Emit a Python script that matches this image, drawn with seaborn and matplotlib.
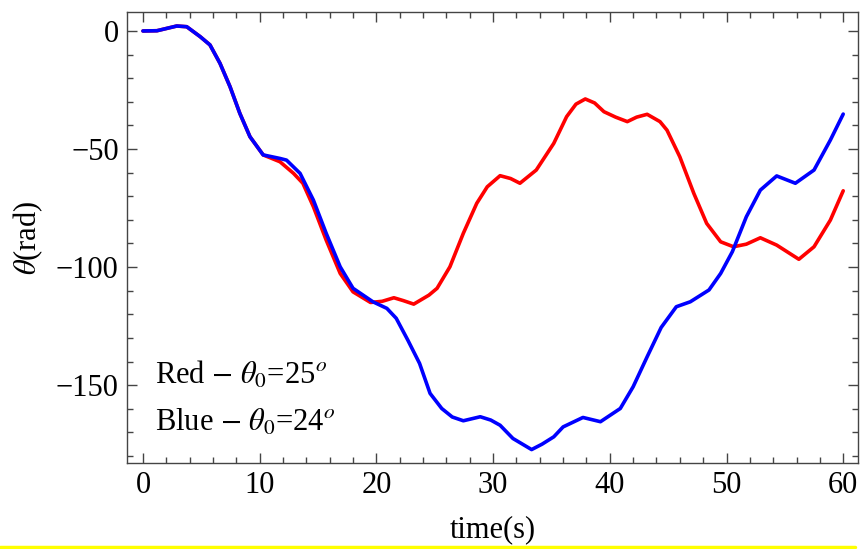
import numpy as np
import pandas as pd
import seaborn as sns
import matplotlib
matplotlib.use("Agg")
import matplotlib.pyplot as plt
from matplotlib.lines import Line2D
from matplotlib.ticker import MultipleLocator

red_t = [0, 1.2, 2.9, 3.75, 4.9, 5.74, 6.6, 7.46, 8.3, 9.17,
         10.3, 11.74, 12.9, 13.7, 14.6, 15.7, 16.9, 18, 19.5, 20.5,
         21.5, 22.3, 23.2, 24.5, 25.2, 26.3, 27.45, 28.6, 29.5, 30.6,
         31.5, 32.3, 33.7, 35.2, 36.3, 37.1, 37.9, 38.7, 39.5, 40.5,
         41.5, 42.3, 43.2, 44.3, 44.9, 46, 47.2, 48.3, 49.5, 50.6,
         51.7, 52.9, 54.3, 56.2, 57.5, 58.9, 60]
red_theta = [0, 0.1, 2.1, 1.8, -2.4, -5.9, -13.7, -23.6, -34.9, -44.8,
             -52.5, -55.4, -60.3, -64.5, -74.4, -88.6, -102.7, -110.5, -115, -114.5,
             -113, -114.2, -115.7, -111.9, -109, -99.9, -85.7, -73, -66, -61.3,
             -62.5, -64.5, -58.9, -47.6, -36.3, -31, -28.8, -30.5, -34.2, -36.5,
             -38.4, -36.5, -35.3, -38.4, -42, -53.3, -68.8, -81.5, -89.3, -91.4,
             -90.3, -87.6, -90.7, -96.7, -91.4, -80.1, -67.7]

blue_t = [0, 1.2, 2.9, 3.75, 4.9, 5.74, 6.6, 7.46, 8.3, 9.17,
          10.3, 11.74, 12.3, 13.46, 14.6, 15.7, 16.9, 18, 19.7, 20.9,
          21.7, 22.7, 23.7, 24.6, 25.6, 26.5, 27.45, 28.9, 29.8, 30.6,
          31.7, 33.3, 34.2, 35.2, 36, 37.7, 39.2, 40.9, 42, 43.2,
          44.4, 45.7, 46.9, 48.5, 49.5, 50.5, 51.7, 52.9, 54.3, 55.9,
          57.5, 58.9, 60]
blue_theta = [0, 0.1, 2.1, 1.8, -2.4, -5.9, -13.7, -23.6, -34.9, -44.8,
              -52.5, -54, -54.7, -60.3, -71.6, -85.7, -99.9, -109, -114.7, -117.5,
              -121.7, -131, -140.8, -153.5, -159.9, -163.5, -165.1, -163.4, -164.8, -167,
              -172.6, -177.3, -175, -171.9, -167.7, -163.7, -165.5, -159.9, -150.7, -138,
              -125.6, -116.8, -114.7, -109.7, -102.7, -93.5, -78.7, -67.4, -61.4, -64.5,
              -58.9, -46.2, -35.2]

series_names = ["Red", "Blue"]
series_colors = ["#ff0000", "#0000ff"]

df = pd.DataFrame({
    "t": red_t + blue_t,
    "theta": red_theta + blue_theta,
    "series": [series_names[0]] * len(red_t) + [series_names[1]] * len(blue_t),
})

sns.set_style("white")
plt.rcParams["font.family"] = ["Liberation Serif", "DejaVu Serif"]
plt.rcParams["mathtext.fontset"] = "stix"
plt.rcParams["text.color"] = "black"
plt.rcParams["axes.labelcolor"] = "black"
plt.rcParams["xtick.labelcolor"] = "black"
plt.rcParams["ytick.labelcolor"] = "black"

fig = plt.figure(figsize=(8.62, 5.49), dpi=100)
ax = fig.add_axes([0.1473, 0.1566, 0.9954 - 0.1473, 0.978 - 0.1566])

sns.lineplot(data=df, x="t", y="theta", hue="series", hue_order=series_names,
             palette=series_colors, linewidth=2.6, legend=False, ax=ax,
             sort=False, estimator=None)

ax.set_xlim(-1.37, 61.27)
ax.set_ylim(-183, 8)
ax.xaxis.set_major_locator(MultipleLocator(10))
ax.xaxis.set_minor_locator(MultipleLocator(2))
ax.yaxis.set_major_locator(MultipleLocator(50))
ax.yaxis.set_minor_locator(MultipleLocator(10))
ax.tick_params(which="both", direction="in", top=True, right=True,
               bottom=True, left=True, color="#444444", width=1,
               labelcolor="black")
ax.tick_params(which="major", length=7, labelsize=22, pad=6)
ax.tick_params(which="minor", length=4)
ax.set_yticks([0, -50, -100, -150])
ax.set_yticklabels(["0", "\u221250", "\u2212100", "\u2212150"])
for s in ax.spines.values():
    s.set_color("#444444")
    s.set_linewidth(1)

ax.set_xlabel("time(s)", fontsize=22, color="black")
ax.xaxis.set_label_coords(0.5, -0.115)
ax.set_ylabel(r"$\theta$(rad)", fontsize=22, color="black")
ax.yaxis.set_label_coords(-0.112, 0.5)

ax.text(0.038, 0.175, r"Red $-$ $\theta_0$=25$^o$", transform=ax.transAxes,
        fontsize=22, va="baseline", color="black")
ax.text(0.038, 0.071, r"Blue $-$ $\theta_0$=24$^o$", transform=ax.transAxes,
        fontsize=22, va="baseline", color="black")

fig.add_artist(Line2D([0, 855 / 862], [1 - 547 / 549, 1 - 547 / 549],
                      transform=fig.transFigure, color="#ffff00", linewidth=2.5))

fig.savefig("out.png", dpi=100)
